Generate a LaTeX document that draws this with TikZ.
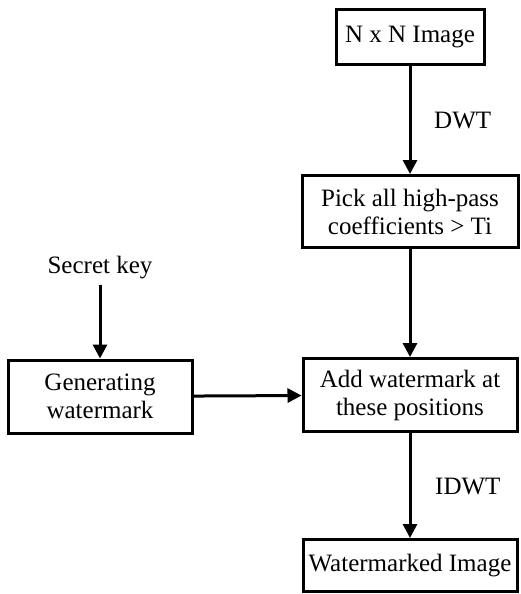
\documentclass[tikz,border=0pt]{standalone}
\usepackage{fontspec}
\setmainfont{Liberation Serif}
\usetikzlibrary{arrows.meta}
\begin{document}
\begin{tikzpicture}[x=1pt,y=1pt,
  box/.style={draw, line width=3pt, inner sep=0pt, align=center,
    font=\fontsize{25}{28}\selectfont},
  lbl/.style={inner sep=0pt, font=\fontsize{25}{28}\selectfont},
  arr/.style={line width=3pt, -{Triangle[length=14pt,width=14pt]}}]
\useasboundingbox (0,0) rectangle (520,-594);
\node[box, minimum width=148pt, minimum height=55pt] (img) at (410,-37) {N x N Image};
\node[box, minimum width=216pt, minimum height=72pt] (pick) at (410,-211.5) {Pick all high-pass\\coefficients > Ti};
\node[box, minimum width=214pt, minimum height=73pt] (add) at (410,-395) {Add watermark at\\these positions};
\node[box, minimum width=184pt, minimum height=73pt] (gen) at (100,-396.5) {Generating\\watermark};
\node[box, minimum width=214pt, minimum height=52pt] (wm) at (410,-565.5) {Watermarked Image};
\node[lbl, inner sep=5pt] (sk) at (100,-268) {Secret key};
\node[lbl, anchor=west] (dwt) at (434,-121) {DWT};
\node[lbl, anchor=west] (idwt) at (435,-486) {IDWT};
\draw[arr] (img) -- (pick);
\draw[arr] (pick) -- (add);
\draw[arr] (add) -- (wm);
\draw[arr] (sk) -- (gen);
\draw[arr] (gen) -- (add);
\end{tikzpicture}
\end{document}
